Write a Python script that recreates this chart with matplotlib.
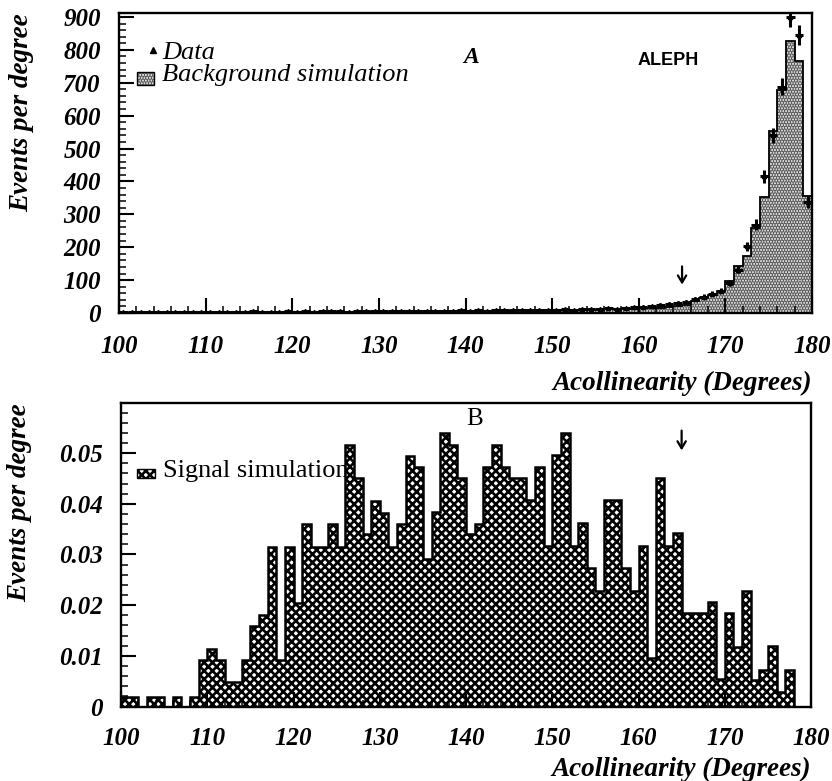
import numpy as np
import matplotlib
matplotlib.use("Agg")
import matplotlib.pyplot as plt
from matplotlib.ticker import MultipleLocator, FuncFormatter
from matplotlib.font_manager import FontProperties

plt.rcParams['font.family'] = ['Liberation Serif', 'DejaVu Serif']
plt.rcParams['hatch.linewidth'] = 1.9

# ---- data -------------------------------------------------------------
bin_edges = np.arange(100, 181, 1)          # 1-degree bins, 100..180

# panel A: measured events per degree (100..179)
data_events = [
    3, 2, 3, 4, 3, 2, 3, 4, 3, 3,
    4, 3, 4, 3, 4, 5, 4, 3, 4, 5,
    4, 5, 4, 5, 6, 5, 4, 5, 6, 5,
    5, 6, 5, 6, 7, 6, 7, 6, 7, 8,
    7, 8, 7, 8, 9, 8, 9, 10, 9, 10,
    10, 11, 10, 12, 11, 12, 14, 13, 15, 17,
    19, 21, 24, 27, 30, 34, 42, 50, 58, 68,
    91, 132, 203, 268, 415, 540, 688, 900, 845, 337,
]

# panel A: background simulation (100..179)
background_sim = [
    1, 1, 2, 1, 2, 2, 1, 2, 2, 2,
    2, 2, 2, 3, 2, 3, 3, 2, 3, 3,
    3, 3, 3, 4, 3, 4, 4, 3, 4, 4,
    4, 4, 5, 4, 5, 5, 5, 5, 6, 5,
    6, 6, 6, 7, 6, 7, 7, 8, 7, 8,
    8, 8, 9, 9, 10, 10, 11, 11, 12, 13,
    14, 15, 16, 18, 20, 25, 35, 46, 56, 66,
    96, 142, 172, 258, 353, 552, 679, 828, 765, 355,
]

# panel B: signal simulation (100..179)
signal_sim = [
    0.0018, 0.0018, 0.0, 0.0018, 0.0018, 0.0, 0.0018, 0.0, 0.0018, 0.0092,
    0.0113, 0.0092, 0.0049, 0.0049, 0.0092, 0.0159, 0.0180, 0.0314, 0.0092, 0.0314,
    0.0204, 0.0361, 0.0314, 0.0314, 0.0361, 0.0314, 0.0516, 0.0450, 0.0340, 0.0405,
    0.0382, 0.0314, 0.0361, 0.0495, 0.0473, 0.0292, 0.0384, 0.0540, 0.0516, 0.0451,
    0.0340, 0.0361, 0.0473, 0.0517, 0.0473, 0.0451, 0.0450, 0.0407, 0.0473, 0.0317,
    0.0496, 0.0540, 0.0317, 0.0363, 0.0273, 0.0228, 0.0407, 0.0407, 0.0273, 0.0228,
    0.0317, 0.0095, 0.0451, 0.0317, 0.0342, 0.0184, 0.0184, 0.0184, 0.0206, 0.0054,
    0.0185, 0.0118, 0.0228, 0.0053, 0.0073, 0.0119, 0.0029, 0.0073, 0.0, 0.0,
]

cut_value = 165
x_ticks = [100, 110, 120, 130, 140, 150, 160, 170, 180]

# ---- figure -----------------------------------------------------------
W, H = 832, 781
fig = plt.figure(figsize=(W / 100, H / 100), dpi=100)
axA = fig.add_axes([119 / W, 1 - 313 / H, (812 - 119) / W, 300 / H])
axB = fig.add_axes([121 / W, 1 - 706.5 / H, (811 - 121) / W, (706.5 - 403) / H])

tick_fp = FontProperties(family='Liberation Serif', style='italic', weight='bold', size=18)
label_kw = dict(fontsize=19.5, style='italic', weight='bold')
bkg_face, bkg_dots = '#f2f2f2', '#5a5a5a'


def style_axis(ax):
    for s in ax.spines.values():
        s.set_linewidth(1.7)
    ax.tick_params(which='both', direction='in', top=False, right=False)
    ax.tick_params(which='major', length=11, width=1.5)
    ax.tick_params(which='minor', length=5, width=1.1)
    ax.tick_params(axis='y', pad=13)
    ax.set_xlim(100, 180)
    ax.set_xticks(x_ticks)
    ax.xaxis.set_minor_locator(MultipleLocator(2))
    for lab in ax.get_xticklabels() + ax.get_yticklabels():
        lab.set_fontproperties(tick_fp)


# ---- panel A ----------------------------------------------------------
axA.stairs(background_sim, bin_edges, fill=True, facecolor=bkg_face,
           edgecolor=bkg_dots, hatch='......', linewidth=0, zorder=1)
axA.stairs(background_sim, bin_edges, color='black', linewidth=1.3, zorder=2)
centers = 0.5 * (bin_edges[:-1] + bin_edges[1:])
data_arr = np.array(data_events, dtype=float)
axA.errorbar(centers, data_arr, xerr=0.5, yerr=np.sqrt(data_arr), fmt='^',
             ms=3, color='black', elinewidth=2.2, capsize=0, zorder=3)
axA.set_ylim(0, 912)
axA.yaxis.set_major_locator(MultipleLocator(100))
axA.yaxis.set_minor_locator(MultipleLocator(20))
style_axis(axA)
axA.tick_params(axis='x', pad=16)
axA.set_ylabel('Events per degree', loc='top', **label_kw)
axA.yaxis.set_label_coords(-0.122, 1.0)
axA.set_xlabel('Acollinearity (Degrees)', loc='right', labelpad=9, **label_kw)

# legend of panel A
axA.plot([103.9], [800], marker='^', ms=4, color='black', ls='none')
axA.text(105.0, 772, 'Data', fontsize=19, style='italic', va='baseline')
axA.bar(103.05, 39, width=1.9, bottom=694, facecolor=bkg_face, edgecolor=bkg_dots,
        hatch='......', linewidth=0)
axA.bar(103.05, 39, width=1.9, bottom=694, fill=False, edgecolor='black', linewidth=1.0)
axA.text(105.0, 704, 'Background simulation', fontsize=19, style='italic', va='baseline')
axA.text(140.6, 776, 'A', fontsize=17, style='italic', weight='bold',
         ha='center', va='center')
axA.text(163.4, 767, 'ALEPH', fontsize=13, weight='bold', family='Liberation Sans',
         ha='center', va='center')
axA.annotate('', xy=(cut_value, 78), xytext=(cut_value, 150),
             arrowprops=dict(arrowstyle='->,head_length=0.5,head_width=0.3',
                             lw=1.6, color='black'))

# ---- panel B ----------------------------------------------------------
axB.text(104.9, 0.0452, 'Signal simulation', fontsize=19, va='baseline', zorder=0)
axB.bar(102.9, 0.0018, width=2.1, bottom=0.0451, facecolor='white', edgecolor='black',
        hatch='xxxx', linewidth=1.0)
axB.stairs(signal_sim, bin_edges, fill=True, facecolor='white', edgecolor='black',
           hatch='xxxx', linewidth=0, zorder=1)
axB.stairs(signal_sim, bin_edges, color='black', linewidth=1.8, zorder=2)
axB.set_ylim(0, 0.0599)
axB.yaxis.set_major_locator(MultipleLocator(0.01))
axB.yaxis.set_minor_locator(MultipleLocator(0.002))
axB.yaxis.set_major_formatter(FuncFormatter(lambda v, p: '0' if abs(v) < 1e-9 else f'{v:.2f}'))
style_axis(axB)
axB.tick_params(axis='x', pad=15)
axB.set_ylabel('Events per degree', loc='top', **label_kw)
axB.yaxis.set_label_coords(-0.128, 1.0)
axB.set_xlabel('Acollinearity (Degrees)', loc='right', labelpad=5, **label_kw)
axB.text(141.0, 0.0567, 'B', fontsize=18, ha='center', va='center')
axB.annotate('', xy=(cut_value, 0.0500), xytext=(cut_value, 0.0550),
             arrowprops=dict(arrowstyle='->,head_length=0.5,head_width=0.3',
                             lw=1.6, color='black'))

fig.savefig('out.png', dpi=100)
